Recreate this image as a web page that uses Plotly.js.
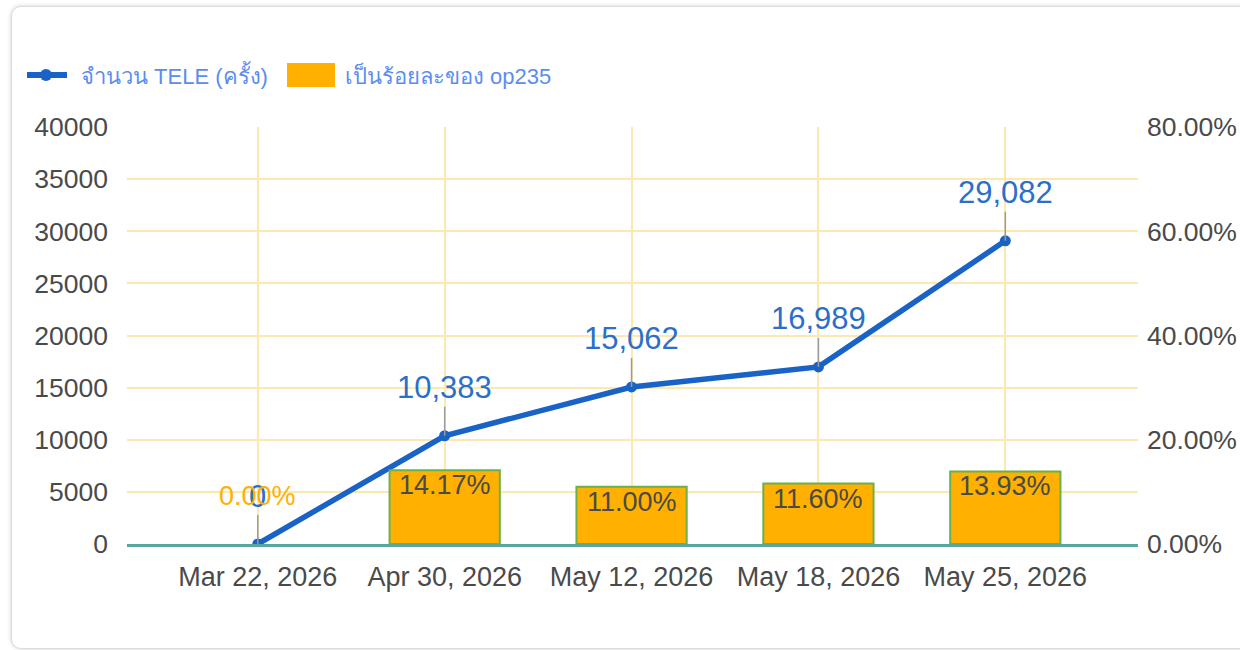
<!DOCTYPE html>
<html>
<head>
<meta charset="utf-8">
<script src="https://cdn.plot.ly/plotly-3.0.1.min.js"></script>
<style>
  html, body { margin: 0; padding: 0; background: #fff; width: 1240px; height: 650px; overflow: hidden; }
  #card { position: absolute; left: 11px; top: 6px; width: 1260px; height: 641px; border: 1px solid #dcdcdc; border-radius: 10px; box-shadow: 0 0 4px rgba(0,0,0,0.18); background: #fff; }
  #chart { position: absolute; left: 0; top: 0; width: 1240px; height: 650px; }
</style>
</head>
<body>
<div id="card"></div>
<div id="chart"></div>
<script>
// ---- data ----
const dates = ["Mar 22, 2026", "Apr 30, 2026", "May 12, 2026", "May 18, 2026", "May 25, 2026"];
const teleCounts = [0, 10383, 15062, 16989, 29082];
const pctOfOp235 = [0.0, 0.1417, 0.1100, 0.1160, 0.1393];
const lineName = "จำนวน TELE (ครั้ง)";
const barName = "เป็นร้อยละของ op235";
const leftTicks = [0, 5000, 10000, 15000, 20000, 25000, 30000, 35000, 40000];
const rightTicks = [0, 0.2, 0.4, 0.6, 0.8];

// ---- style ----
const W = 1240, H = 650;
const M = {l: 127, r: 102, t: 127, b: 106};
const FONT = "Liberation Sans, Arial, sans-serif";
const LINE_C = "#1a63c6";
const BAR_C = "#ffb000";
const BAR_EDGE = "#6ab04c";
const GRID_C = "#fde9b0";
const TICK_C = "#4a4a4a";
const LEG_C = "#5b8def";

const pw = W - M.l - M.r, ph = H - M.t - M.b;
const px2x = p => (p - M.l) / pw;
const py2y = p => (H - M.b - p) / ph;

const barTrace = {
  type: "bar", name: barName, x: dates, y: pctOfOp235, yaxis: "y2",
  width: 0.59,
  marker: {color: BAR_C, line: {color: BAR_EDGE, width: pctOfOp235.map(v => v > 0 ? 2 : 0)}},
  hoverinfo: "x+y", showlegend: false
};
const lineTrace = {
  type: "scatter", mode: "lines+markers", name: lineName, x: dates, y: teleCounts,
  line: {color: LINE_C, width: 5.5},
  marker: {color: LINE_C, size: 11},
  showlegend: false
};

const annotations = [];
teleCounts.forEach((v, i) => {
  annotations.push({
    x: dates[i], y: v, xref: "x", yref: "y",
    text: v.toLocaleString("en-US"),
    showarrow: true, arrowhead: 0, arrowwidth: 1.5, arrowcolor: "#9a9a9a",
    ax: 0, ay: -48, standoff: 0,
    font: {family: FONT, size: 31, color: "#2b6fca"}
  });
});
pctOfOp235.forEach((v, i) => {
  const txt = (v * 100).toFixed(2) + "%";
  if (v > 0.02) {
    annotations.push({
      x: dates[i], y: v, xref: "x", yref: "y2", yanchor: "top", yshift: 2,
      text: txt, showarrow: false,
      font: {family: FONT, size: 27, color: "#4a4a4a"}
    });
  } else {
    annotations.push({
      x: dates[i], y: v, xref: "x", yref: "y2", yanchor: "bottom", yshift: 31,
      text: txt, showarrow: false,
      font: {family: FONT, size: 27, color: BAR_C}
    });
  }
});

// custom legend
const legY = py2y(75);
annotations.push({
  xref: "paper", yref: "paper", x: px2x(79), y: legY, xanchor: "left", yanchor: "middle",
  text: lineName, showarrow: false, font: {family: FONT, size: 22, color: LEG_C}
});
annotations.push({
  xref: "paper", yref: "paper", x: px2x(343), y: legY, xanchor: "left", yanchor: "middle",
  text: barName, showarrow: false, font: {family: FONT, size: 22, color: LEG_C}
});
const shapes = [
  {type: "line", xref: "paper", yref: "paper", x0: px2x(27), x1: px2x(67), y0: legY, y1: legY,
   line: {color: LINE_C, width: 6}},
  {type: "circle", xref: "paper", yref: "paper", x0: px2x(40), x1: px2x(52), y0: py2y(81), y1: py2y(69),
   fillcolor: LINE_C, line: {width: 0}},
  {type: "rect", xref: "paper", yref: "paper", x0: px2x(287), x1: px2x(335), y0: py2y(87), y1: py2y(63),
   fillcolor: BAR_C, line: {width: 0}}
];

const layout = {
  width: W, height: H,
  margin: M,
  paper_bgcolor: "rgba(0,0,0,0)", plot_bgcolor: "rgba(0,0,0,0)",
  font: {family: FONT, color: TICK_C},
  showlegend: false,
  bargap: 0,
  xaxis: {
    type: "category", range: [-0.7, 4.71],
    showgrid: true, gridcolor: GRID_C, gridwidth: 2,
    showline: true, linecolor: "#58a8a0", linewidth: 2.5,
    ticks: "", ticklabelstandoff: 7,
    tickfont: {family: FONT, size: 27, color: TICK_C},
    fixedrange: true
  },
  yaxis: {
    range: [0, 40000], tickvals: leftTicks, tickformat: "d",
    showgrid: true, gridcolor: GRID_C, gridwidth: 2, zeroline: false,
    ticks: "", ticklabelstandoff: 18,
    tickfont: {family: FONT, size: 26.5, color: TICK_C}
  },
  yaxis2: {
    overlaying: "y", side: "right", range: [0, 0.8], tickvals: rightTicks, tickformat: ".2%",
    showgrid: false, zeroline: false, ticks: "", ticklabelstandoff: 8,
    tickfont: {family: FONT, size: 26.5, color: TICK_C}
  },
  annotations: annotations,
  shapes: shapes
};

Plotly.newPlot("chart", [barTrace, lineTrace], layout, {displayModeBar: false, staticPlot: true});
</script>
</body>
</html>
